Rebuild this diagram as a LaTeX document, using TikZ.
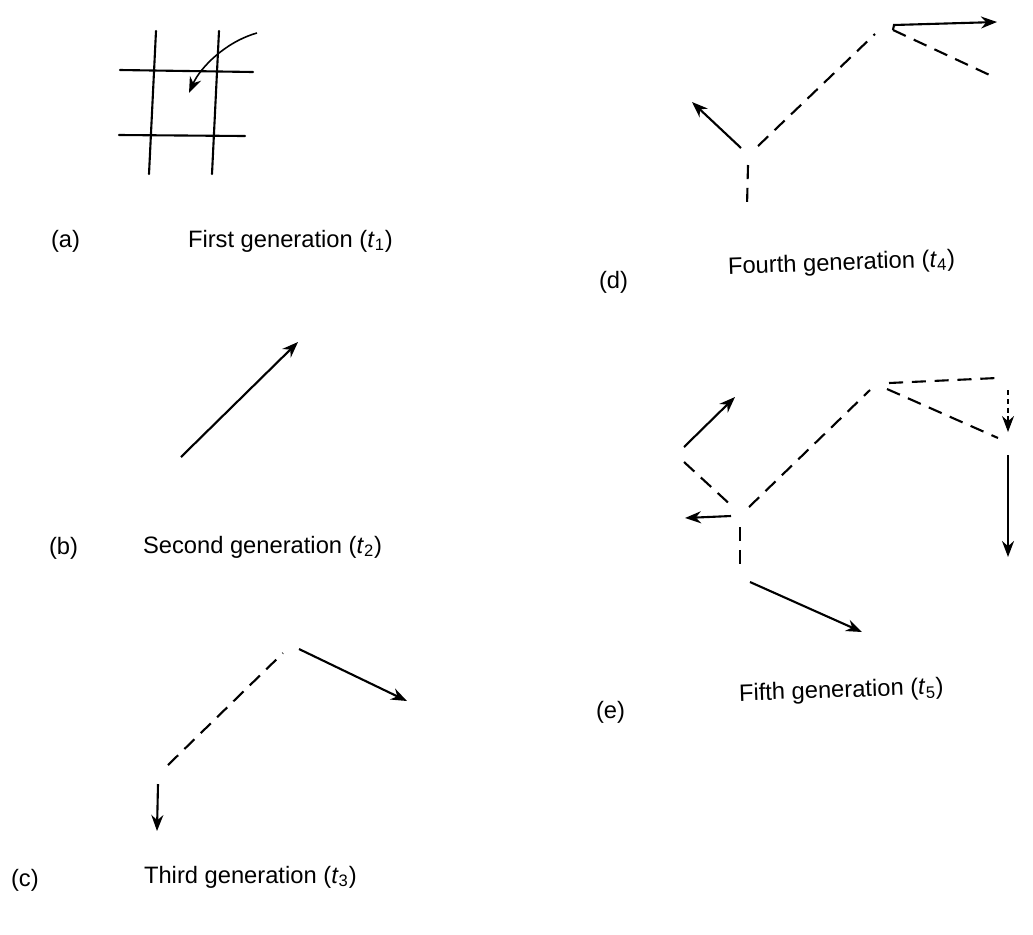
\documentclass[tikz,border=0pt]{standalone}
\usepackage{fontspec}
\setmainfont{Liberation Sans}
\usepackage{tikz}
\usetikzlibrary{arrows.meta}

\begin{document}
\begin{tikzpicture}[
  x=0.02cm, y=-0.02cm,
  line width=1.2pt,
  seg/.style={line cap=round},
  dsh/.style={dash pattern=on 8pt off 5pt},
  arr/.style={-{Stealth[length=3.2mm, width=2.4mm]}},
  lbl/.style={anchor=west, inner sep=0pt, font=\fontsize{13.5}{15}\selectfont}]
\useasboundingbox (0,0) rectangle (1033,934);
% (a) grid with incoming curve
\draw[seg] (156,31) -- (149,174);
\draw[seg] (219,31) -- (212,174);
\draw[seg] (120,70) -- (253,72);
\draw[seg] (119,135) -- (245,136);
\draw[arr, line width=0.9pt] (257,33) .. controls (225,42) and (200,68) .. (189,93);
\node[lbl] (labA) at (50,241) {(a)};
\node[lbl] (capA) at (187,241) {First generation (\textit{t}\textsubscript{1})};
% (b) single step
\draw[arr] (181,457) -- (298,342);
\node[lbl] (labB) at (48,548) {(b)};
\node[lbl] (capB) at (142,547) {Second generation (\textit{t}\textsubscript{2})};
% (c)
\draw[dsh] (168,765) -- (283,653);
\draw[arr] (299,649) -- (407,701);
\draw[arr] (158,784) -- (157,831);
\node[lbl] (labC) at (10,880) {(c)};
\node[lbl] (capC) at (143,877) {Third generation (\textit{t}\textsubscript{3})};
% (d)
\draw[dsh] (748,165) -- (747,206);
\draw[arr] (741,148) -- (692,102);
\draw[dsh] (758,146) -- (875,34);
\draw[arr] (893,30) -- (894,25) -- (997,22);
\draw[dsh] (893,30) -- (996,78);
\node[lbl] (labD) at (598,282) {(d)};
\node[lbl, rotate=2] (capD) at (727,268) {Fourth generation (\textit{t}\textsubscript{4})};
% (e)
\draw[arr] (684,447) -- (735,397);
\draw[dsh] (684,462) -- (734,508);
\draw[arr] (731,516) -- (685,518);
\draw[dsh] (740,527) -- (740,564);
\draw[dsh] (749,507) -- (870,390);
\draw[dsh] (889,383) -- (997,378);
\draw[dsh] (887,389) -- (998,438);
\draw[arr, line width=0.6pt, densely dashed] (1008,390) -- (1008,432);
\draw[arr] (1008,455) -- (1008,557);
\draw[arr] (750,582) -- (862,632);
\node[lbl] (labE) at (595,712) {(e)};
\node[lbl, rotate=2] (capE) at (738,695) {Fifth generation (\textit{t}\textsubscript{5})};
\end{tikzpicture}
\end{document}
